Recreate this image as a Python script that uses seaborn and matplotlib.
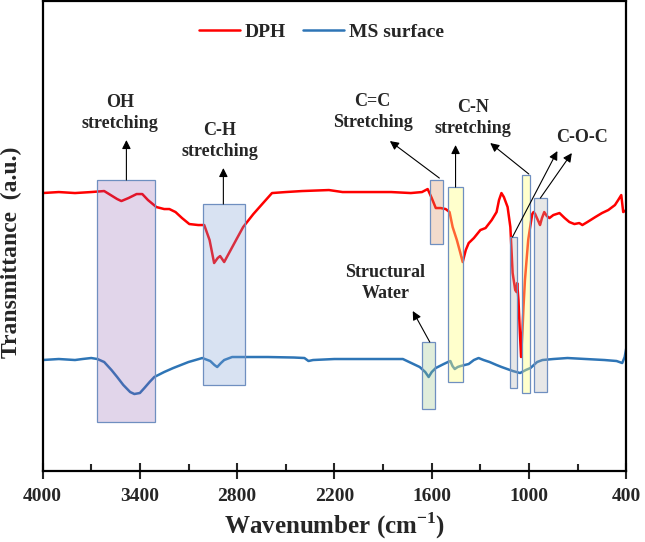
import numpy as np
import pandas as pd
import seaborn as sns
import matplotlib.pyplot as plt
from matplotlib.patches import Rectangle
from matplotlib.ticker import FixedLocator

# DPH spectrum (wavenumber, transmittance in a.u.)
dph_wavenumber = [4000, 3900, 3800, 3700, 3620, 3580, 3540, 3514, 3470, 3420, 3385, 3350,
                  3298, 3250, 3218, 3180, 3140, 3095, 3040, 3003, 2970, 2942, 2920, 2905,
                  2880, 2840, 2800, 2763, 2700, 2640, 2585, 2500, 2400, 2234, 2150, 2000,
                  1850, 1729, 1660, 1625, 1600, 1575, 1545, 1514, 1490, 1471, 1445, 1425,
                  1409, 1390, 1372, 1340, 1300, 1268, 1230, 1200, 1185, 1170, 1155, 1132,
                  1115, 1101, 1085, 1077, 1073, 1065, 1057, 1049, 1040, 1034, 1025, 1015,
                  1005, 993, 980, 972, 962, 954, 940, 932, 920, 906, 890, 874, 850, 812,
                  780, 751, 720, 690, 671, 640, 591, 550, 511, 470, 450, 431, 419, 400]
dph_signal = [278, 279, 278, 279, 280, 276, 272, 270, 273, 277, 277, 271,
              264, 262, 262, 259, 253, 247, 246, 246, 231, 208, 213, 215,
              209, 221, 233, 244, 257, 268, 278, 279, 280, 281, 279, 279,
              279, 278, 279, 282, 273, 263, 263, 262, 259, 244, 231, 219,
              209, 221, 228, 233, 241, 243, 251, 259, 271, 278, 274, 264,
              244, 198, 181, 179, 188, 171, 141, 114, 141, 164, 191, 211,
              231, 244, 257, 259, 257, 254, 249, 246, 253, 259, 255, 253, 256, 258,
              253, 249, 247, 248, 246, 249, 254, 258, 261, 266, 271, 276, 259, 261]

# MS surface spectrum
ms_wavenumber = [4000, 3900, 3800, 3754, 3700, 3662, 3620, 3575, 3540, 3502, 3460, 3434,
                 3400, 3372, 3340, 3311, 3250, 3194, 3100, 3015, 2966, 2940, 2923, 2900,
                 2880, 2831, 2700, 2612, 2450, 2385, 2360, 2332, 2200, 1981, 1850, 1778,
                 1726, 1674, 1640, 1619, 1600, 1575, 1526, 1500, 1485, 1472, 1458, 1440,
                 1422, 1372, 1340, 1311, 1280, 1243, 1200, 1169, 1100, 1055, 1020, 991,
                 950, 917, 850, 763, 650, 535, 460, 425, 410, 400]
ms_signal = [111, 112, 111, 112, 113, 112, 109, 101, 94, 86, 79, 77,
             78, 83, 89, 94, 99, 103, 109, 113, 110, 106, 104, 108,
             111, 114, 114, 114, 113.5, 113, 110, 111, 112, 112, 112, 112,
             108, 104, 99, 94, 99, 103, 107, 109, 110, 105, 102, 104,
             105, 107, 111, 113, 111, 109, 106, 104, 100, 98, 101, 103,
             109, 111, 112, 113, 112, 111, 110, 108, 114, 123]

x_ticks = [4000, 3400, 2800, 2200, 1600, 1000, 400]
x_minor = [3700, 3100, 2500, 1900, 1300, 700]

# annotation boxes: (high wn, low wn, bottom, top, colour, alpha)
boxes = [
    (3662, 3305, 49, 291, "#8858ac", 0.25),
    (3009, 2751, 86, 267, "#80a2d7", 0.3),
    (1609, 1532, 227, 291, "#d48a58", 0.3),
    (1498, 1409, 89, 284, "#ffff80", 0.4),
    (1662, 1582, 62, 129, "#9bc68a", 0.3),
    (1117, 1077, 83, 234, "#b2b2b2", 0.3),
    (1046, 993, 78, 296, "#ffff80", 0.4),
    (970, 890, 79, 273, "#b2b2b2", 0.3),
]

# labels: (text, wn, y)
labels = [
    ("OH\nstretching", 3522, 358),
    ("C-H\nstretching", 2906, 330),
    ("C=C\nStretching", 1964, 359),
    ("C-N\nstretching", 1348, 353),
    ("C-O-C", 675, 334),
    ("Structural\nWater", 1885, 188),
]

# arrows: (start wn, start y, end wn, end y)
arrows = [
    (3483, 291, 3483, 331),
    (2885, 267, 2885, 303),
    (1553, 293, 1858, 330),
    (1453, 284, 1453, 326),
    (1001, 297, 1239, 328),
    (1102, 234, 825, 320),
    (930, 273, 736, 318),
    (1612, 129, 1717, 160),
]

sns.set_style("white")
plt.rcParams["font.family"] = ["Liberation Serif", "DejaVu Serif"]
plt.rcParams["font.weight"] = "bold"
plt.rcParams["mathtext.fontset"] = "custom"
plt.rcParams["mathtext.rm"] = "Liberation Serif:bold"
plt.rcParams["mathtext.bf"] = "Liberation Serif:bold"

fig = plt.figure(figsize=(6.45, 5.42), dpi=100)
ax = fig.add_axes([0.066, 0.131, 0.905, 0.867])

dph = pd.DataFrame({"wn": dph_wavenumber, "T": dph_signal})
ms = pd.DataFrame({"wn": ms_wavenumber, "T": ms_signal})
sns.lineplot(data=dph, x="wn", y="T", color="#ff0000", lw=1.8, estimator=None,
             sort=False, label="DPH", ax=ax)
sns.lineplot(data=ms, x="wn", y="T", color="#2e75b6", lw=1.8, estimator=None,
             sort=False, label="MS surface", ax=ax)

# translucent boxes drawn over the spectra
for hi, lo, bot, top, col, a in boxes:
    ax.add_patch(Rectangle((lo, bot), hi - lo, top - bot, facecolor=col, alpha=a,
                           edgecolor="none", zorder=3))
    ax.add_patch(Rectangle((lo, bot), hi - lo, top - bot, facecolor="none",
                           edgecolor="#6f8fc0", lw=0.9, zorder=3))

for txt, wn, y in labels:
    ax.text(wn, y, txt, ha="center", va="center", fontsize=13, fontweight="bold",
            linespacing=1.25)

for x0, y0, x1, y1 in arrows:
    ax.annotate("", xy=(x1, y1), xytext=(x0, y0),
                arrowprops=dict(arrowstyle="-|>", color="black", lw=0.8,
                                mutation_scale=13, shrinkA=0, shrinkB=0))

ax.set_xlim(4000, 400)
ax.set_ylim(0, 470)
ax.set_xticks(x_ticks)
ax.xaxis.set_minor_locator(FixedLocator(x_minor))
ax.set_yticks([])
ax.tick_params(axis="x", which="major", direction="inout", length=12, width=1.5,
               labelsize=14, pad=6, bottom=True)
ax.tick_params(axis="x", which="minor", direction="in", length=5, width=1.5, bottom=True)
for s in ax.spines.values():
    s.set_color("black")
    s.set_linewidth(1.6)

ax.set_xlabel(r"Wavenumber (cm$^{\mathbf{-1}}$)", fontsize=18, fontweight="bold", labelpad=4)
ax.set_ylabel("Transmittance  (a.u.)", fontsize=17, fontweight="bold")
ax.yaxis.set_label_coords(-0.036, 0.466)

ax.legend(loc="center", bbox_to_anchor=(0.478, 0.934), ncol=2, frameon=False,
          prop={"size": 14, "weight": "bold"}, handlelength=2.1, columnspacing=0.9,
          handletextpad=0.25)

fig.savefig("out.png", dpi=100)
